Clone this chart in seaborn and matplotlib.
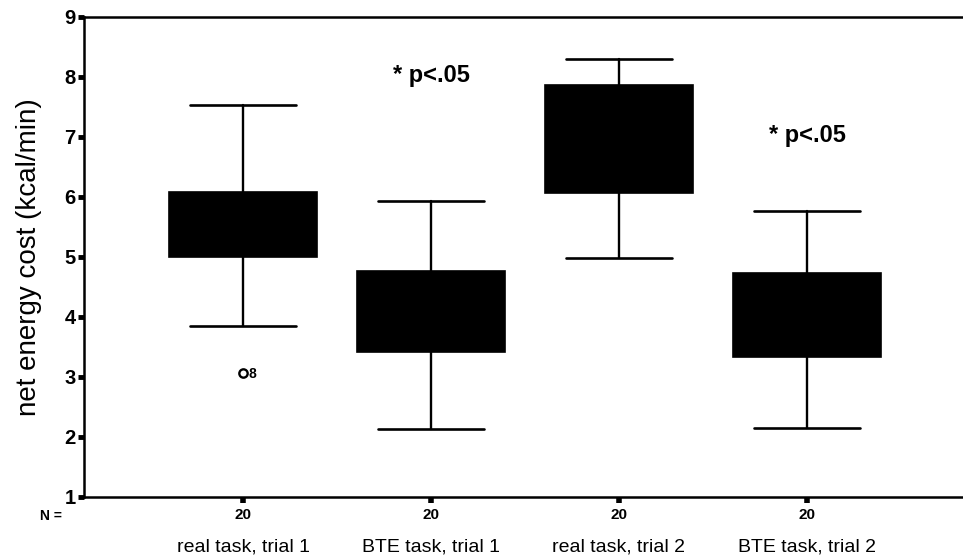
import matplotlib
matplotlib.use("Agg")
import matplotlib.pyplot as plt
import matplotlib.transforms as mtransforms
import seaborn as sns

# Summary statistics (kcal/min) for each condition
categories = ["real task, trial 1", "BTE task, trial 1", "real task, trial 2", "BTE task, trial 2"]
n_counts = [20, 20, 20, 20]
whisker_low = [3.85, 2.13, 4.98, 2.15]
q1 = [5.00, 3.42, 6.07, 3.33]
median = [5.55, 4.10, 7.00, 4.05]
q3 = [6.08, 4.77, 7.87, 4.73]
whisker_high = [7.53, 5.93, 8.30, 5.77]
outliers = [[3.07], [], [], []]
outlier_case = [["8"], [], [], []]

sig_text = "* p<.05"
sig_positions = [(1, 8.03), (3, 7.03)]

sns.set_theme(style="ticks")
plt.rcParams["font.family"] = ["Liberation Sans", "DejaVu Sans"]
plt.rcParams.update({"text.color": "black", "axes.labelcolor": "black",
                     "xtick.color": "black", "ytick.color": "black"})

fig = plt.figure(figsize=(9.63, 5.6), dpi=100)
ax = fig.add_axes([84 / 963, 63 / 560, 879 / 963, 480 / 560])

stats = []
for i, lab in enumerate(categories):
    stats.append(dict(label=lab, whislo=whisker_low[i], q1=q1[i], med=median[i],
                      q3=q3[i], whishi=whisker_high[i], fliers=outliers[i]))

positions = list(range(len(categories)))
ax.bxp(stats, positions=positions, widths=0.79, capwidths=0.56, patch_artist=True,
       showfliers=True,
       boxprops=dict(facecolor="black", edgecolor="black", linewidth=1.2),
       medianprops=dict(color="black", linewidth=1.2),
       whiskerprops=dict(color="black", linewidth=1.7),
       capprops=dict(color="black", linewidth=1.9),
       flierprops=dict(marker="o", markersize=6, markerfacecolor="none",
                       markeredgecolor="black", markeredgewidth=1.7))

# case numbers next to outliers
for i, (vals, cases) in enumerate(zip(outliers, outlier_case)):
    for v, c in zip(vals, cases):
        ax.text(i + 0.03, v - 0.02, c, fontsize=10, fontweight="bold", ha="left", va="center")

for (x, y) in sig_positions:
    ax.text(x, y, sig_text, fontsize=17, fontweight="bold", ha="center", va="center")

ax.set_xlim(-0.846, 3.83)
ax.set_ylim(1, 9)
ax.set_yticks(range(1, 10))
ax.tick_params(axis="y", direction="out", length=4, width=3.5, labelsize=14.5, pad=2,
               colors="black")
for t in ax.get_yticklabels():
    t.set_fontweight("bold")

ax.set_xticks(positions)
ax.set_xticklabels([str(n) for n in n_counts], fontsize=11, fontweight="bold")
ax.tick_params(axis="x", direction="out", length=4, width=4, pad=4, colors="black")

# category names beneath the N row
trans = mtransforms.blended_transform_factory(ax.transData, ax.transAxes)
for i, lab in enumerate(categories):
    ax.text(i, -0.105, lab, transform=trans, ha="center", va="center", fontsize=14,
            color="black")
ax.text(-0.037, -0.04, "N =", transform=ax.transAxes, ha="center", va="center",
        fontsize=10, fontweight="bold", color="black")

ax.set_ylabel("net energy cost (kcal/min)", fontsize=20, labelpad=16, color="black")

for side in ["left", "bottom", "top"]:
    ax.spines[side].set_linewidth(1.8)
    ax.spines[side].set_color("black")
ax.spines["right"].set_visible(False)
ax.grid(False)

fig.savefig("out.png", dpi=100)
